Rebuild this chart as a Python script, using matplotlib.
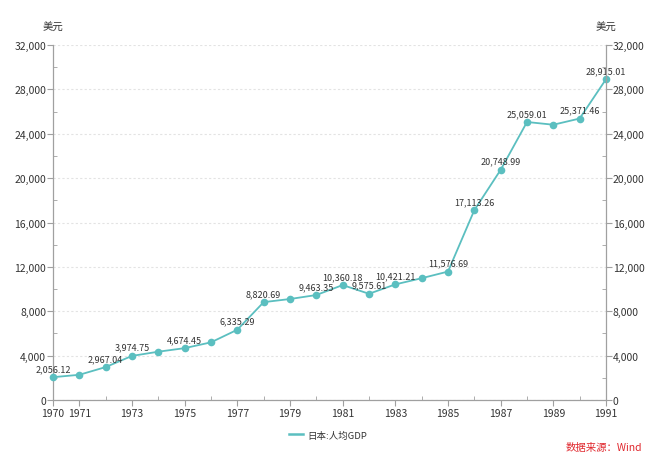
import matplotlib
matplotlib.use("Agg")
import matplotlib.pyplot as plt
from matplotlib.ticker import MultipleLocator, FixedLocator, FuncFormatter
from matplotlib.lines import Line2D

plt.rcParams['font.family'] = ['Noto Sans CJK SC', 'DejaVu Sans']

years = list(range(1970, 1992))
gdp = [2056.12, 2272.08, 2967.04, 3974.75, 4353.82, 4674.45, 5197.93, 6335.29,
       8820.69, 9103.08, 9463.35, 10360.18, 9575.61, 10421.21, 10978.92, 11576.69,
       17113.26, 20748.99, 25059.01, 24813.30, 25371.46, 28915.01]
labeled_years = [1970, 1972, 1973, 1975, 1977, 1978, 1980, 1981, 1982, 1983,
                 1985, 1986, 1987, 1988, 1990, 1991]
xtick_labels_years = [1970, 1971, 1973, 1975, 1977, 1979, 1981, 1983, 1985, 1987, 1989, 1991]
series_name = "日本:人均GDP"
unit = "美元"
source = "数据来源：Wind"

line_color = "#5BBFC0"
axis_color = "#A0A0A0"
text_color = "#333333"

fig = plt.figure(figsize=(6.6, 4.6), dpi=100)
ax = fig.add_axes([53/660, 59/460, 553/660, 355/460])

ax.plot(years, gdp, color=line_color, lw=1.3, marker='o', ms=5.5,
        markeredgewidth=0, label=series_name, zorder=3, clip_on=False)

for y, v in zip(years, gdp):
    if y in labeled_years:
        ax.annotate(f"{v:,.2f}", (y, v), xytext=(0, 3), textcoords='offset points',
                    ha='center', va='bottom', fontsize=6.5, color=text_color)

ax.set_xlim(1970, 1991)
ax.set_ylim(0, 32000)

# x ticks
ax.xaxis.set_major_locator(FixedLocator(xtick_labels_years))
ax.xaxis.set_minor_locator(FixedLocator([y for y in years if y not in xtick_labels_years]))
ax.xaxis.set_major_formatter(FuncFormatter(lambda v, p: f"{int(v)}"))
ax.tick_params(axis='x', which='major', direction='out', length=4, color=axis_color,
               labelsize=7.5, labelcolor=text_color, pad=2)
ax.tick_params(axis='x', which='minor', direction='in', length=3, color=axis_color)

# y ticks
ax.yaxis.set_major_locator(MultipleLocator(4000))
ax.yaxis.set_minor_locator(MultipleLocator(2000))
fmt = FuncFormatter(lambda v, p: f"{int(v):,}")
ax.yaxis.set_major_formatter(fmt)
ax.tick_params(axis='y', which='major', direction='out', length=4, color=axis_color,
               labelsize=7.5, labelcolor=text_color, pad=1)
ax.tick_params(axis='y', which='minor', direction='in', length=3, color=axis_color)

ax2 = ax.twinx()
ax2.set_ylim(0, 32000)
ax2.yaxis.set_major_locator(MultipleLocator(4000))
ax2.yaxis.set_minor_locator(MultipleLocator(2000))
ax2.yaxis.set_major_formatter(fmt)
ax2.tick_params(axis='y', which='major', direction='out', length=4, color=axis_color,
                labelsize=7.5, labelcolor=text_color, pad=1)
ax2.tick_params(axis='y', which='minor', direction='in', length=3, color=axis_color)

for a in (ax, ax2):
    for s in a.spines.values():
        s.set_visible(False)
ax.spines['left'].set_visible(True)
ax.spines['bottom'].set_visible(True)
ax2.spines['right'].set_visible(True)
for s in (ax.spines['left'], ax.spines['bottom'], ax2.spines['right']):
    s.set_color(axis_color)
    s.set_linewidth(0.9)

ax.grid(axis='y', which='major', linestyle=(0, (2, 2)), color='#E3E3E3', lw=0.8)
ax.set_axisbelow(True)

fig.text(53/660, 1 - 28/460, unit, ha='center', va='center', fontsize=7.5, color=text_color)
fig.text(606/660, 1 - 28/460, unit, ha='center', va='center', fontsize=7.5, color=text_color)

h = [Line2D([0], [0], color=line_color, lw=1.8)]
fig.legend(h, [series_name], loc='center', bbox_to_anchor=(328/660, 1 - 436/460),
           frameon=False, fontsize=6.8, handlelength=1.5, handletextpad=0.4,
           labelcolor=text_color)

fig.text(642/660, 1 - 448/460, source, ha='right', va='center', fontsize=7.5, color='#E0282E')

fig.savefig("out.png", dpi=100)
